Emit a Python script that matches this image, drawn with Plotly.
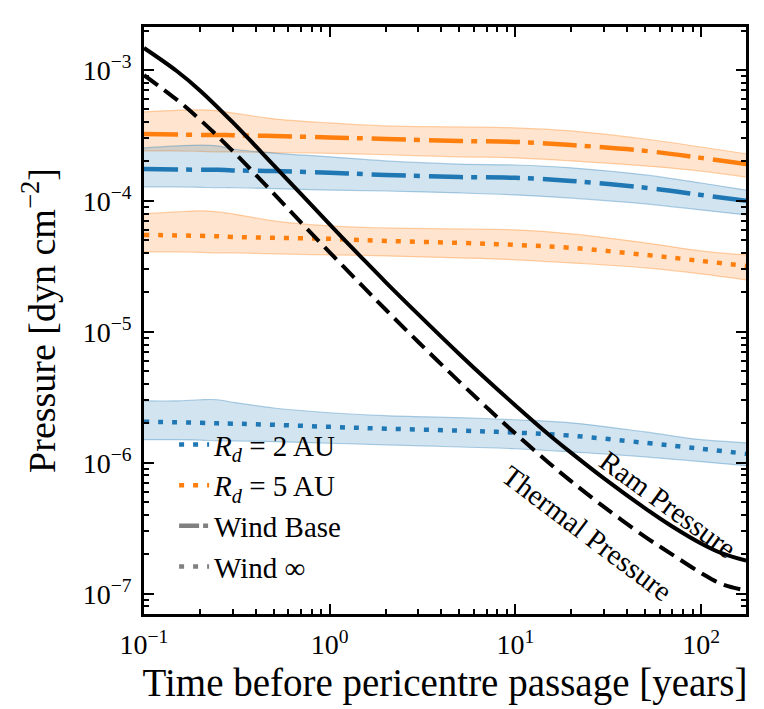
import plotly.graph_objects as go

# time before pericentre [years]
t_curve = [0.1, 0.15, 0.2, 0.3, 0.5, 0.7, 1, 1.5, 2, 3, 5, 7, 10, 15, 20, 30, 50, 70, 100, 130, 175]
ram_p = [1.472e-3, 9.82e-4, 6.98e-4, 3.99e-4, 1.87e-4, 1.13e-4, 6.61e-5, 3.64e-5, 2.40e-5, 1.36e-5,
         6.75e-6, 4.32e-6, 2.74e-6, 1.66e-6, 1.19e-6, 7.60e-7, 4.49e-7, 3.26e-7, 2.42e-7, 2.03e-7, 1.79e-7]
therm_p = [9.12e-4, 5.93e-4, 4.18e-4, 2.41e-4, 1.135e-4, 6.85e-5, 4.05e-5, 2.24e-5, 1.48e-5, 8.36e-6,
           4.15e-6, 2.65e-6, 1.67e-6, 1.01e-6, 7.21e-7, 4.60e-7, 2.72e-7, 1.99e-7, 1.44e-7, 1.18e-7, 1.06e-7]

t_band = [0.1, 0.15, 0.2, 0.25, 0.3, 0.5, 1, 2, 5, 10, 20, 50, 100, 175]

# R_d = 2 AU, wind base
b2_hi = [2.54e-4, 2.63e-4, 2.67e-4, 2.63e-4, 2.49e-4, 2.32e-4, 2.17e-4, 2.02e-4, 1.91e-4, 1.88e-4, 1.79e-4, 1.58e-4, 1.37e-4, 1.21e-4]
b2_mid = [1.75e-4, 1.74e-4, 1.73e-4, 1.73e-4, 1.71e-4, 1.69e-4, 1.64e-4, 1.58e-4, 1.52e-4, 1.50e-4, 1.42e-4, 1.26e-4, 1.11e-4, 1.00e-4]
b2_lo = [1.28e-4, 1.28e-4, 1.27e-4, 1.26e-4, 1.26e-4, 1.24e-4, 1.21e-4, 1.19e-4, 1.15e-4, 1.11e-4, 1.05e-4, 9.49e-5, 8.53e-5, 7.81e-5]
# R_d = 5 AU, wind base
b5_hi = [4.78e-4, 4.92e-4, 4.96e-4, 4.87e-4, 4.70e-4, 4.23e-4, 3.94e-4, 3.74e-4, 3.67e-4, 3.61e-4, 3.42e-4, 2.97e-4, 2.58e-4, 2.29e-4]
b5_mid = [3.24e-4, 3.21e-4, 3.19e-4, 3.19e-4, 3.17e-4, 3.13e-4, 3.05e-4, 2.97e-4, 2.87e-4, 2.82e-4, 2.67e-4, 2.41e-4, 2.13e-4, 1.91e-4]
b5_lo = [2.41e-4, 2.41e-4, 2.39e-4, 2.37e-4, 2.37e-4, 2.34e-4, 2.31e-4, 2.25e-4, 2.17e-4, 2.13e-4, 2.02e-4, 1.85e-4, 1.69e-4, 1.52e-4]
# R_d = 2 AU, wind infinity
i2_hi = [2.97e-6, 2.97e-6, 3.03e-6, 3.03e-6, 2.90e-6, 2.62e-6, 2.41e-6, 2.29e-6, 2.21e-6, 2.13e-6, 2.02e-6, 1.72e-6, 1.50e-6, 1.42e-6]
i2_mid = [2.06e-6, 2.04e-6, 2.02e-6, 2.00e-6, 1.99e-6, 1.95e-6, 1.88e-6, 1.82e-6, 1.76e-6, 1.70e-6, 1.61e-6, 1.42e-6, 1.28e-6, 1.17e-6]
i2_lo = [1.50e-6, 1.50e-6, 1.49e-6, 1.47e-6, 1.47e-6, 1.45e-6, 1.41e-6, 1.37e-6, 1.32e-6, 1.28e-6, 1.21e-6, 1.11e-6, 1.02e-6, 0.95e-6]
# R_d = 5 AU, wind infinity
i5_hi = [7.96e-5, 8.24e-5, 8.39e-5, 8.24e-5, 7.96e-5, 7.03e-5, 6.44e-5, 6.22e-5, 6.11e-5, 6.01e-5, 5.60e-5, 4.78e-5, 4.15e-5, 3.87e-5]
i5_mid = [5.50e-5, 5.45e-5, 5.41e-5, 5.37e-5, 5.31e-5, 5.22e-5, 5.13e-5, 4.95e-5, 4.78e-5, 4.61e-5, 4.38e-5, 3.87e-5, 3.48e-5, 3.19e-5]
i5_lo = [4.08e-5, 4.08e-5, 4.05e-5, 4.01e-5, 4.01e-5, 3.94e-5, 3.87e-5, 3.80e-5, 3.67e-5, 3.55e-5, 3.36e-5, 3.08e-5, 2.77e-5, 2.49e-5]

x_tickvals = [0.1, 1, 10, 100]
x_ticktext = ["10<sup>\u22121</sup>", "10<sup>0</sup>", "10<sup>1</sup>", "10<sup>2</sup>"]
y_tickvals = [1e-7, 1e-6, 1e-5, 1e-4, 1e-3]
y_ticktext = ["10<sup>\u22127</sup>", "10<sup>\u22126</sup>", "10<sup>\u22125</sup>",
              "10<sup>\u22124</sup>", "10<sup>\u22123</sup>"]

C0 = (31, 119, 180)
C1 = (255, 127, 14)
FONT = "Liberation Serif"
DOT = "5px,9px"
DASHDOT = "34px,8px,6px,9px"


def rgba(c, a):
    return "rgba(%d,%d,%d,%s)" % (c[0], c[1], c[2], a)


fig = go.Figure()


def add_band(hi, mid, lo, col, dash):
    fig.add_trace(go.Scatter(x=t_band, y=hi, mode="lines", line=dict(color=rgba(col, 0.35), width=1.2),
                             line_shape="spline", showlegend=False, hoverinfo="skip"))
    fig.add_trace(go.Scatter(x=t_band, y=lo, mode="lines", line=dict(color=rgba(col, 0.35), width=1.2),
                             line_shape="spline", fill="tonexty", fillcolor=rgba(col, 0.2),
                             showlegend=False, hoverinfo="skip"))
    fig.add_trace(go.Scatter(x=t_band, y=mid, mode="lines", line=dict(color=rgba(col, 1), width=4.5, dash=dash),
                             line_shape="spline", showlegend=False))


add_band(b5_hi, b5_mid, b5_lo, C1, DASHDOT)
add_band(b2_hi, b2_mid, b2_lo, C0, DASHDOT)
add_band(i5_hi, i5_mid, i5_lo, C1, DOT)
add_band(i2_hi, i2_mid, i2_lo, C0, DOT)

fig.add_trace(go.Scatter(x=t_curve, y=ram_p, mode="lines", line=dict(color="black", width=4),
                         line_shape="spline", showlegend=False))
fig.add_trace(go.Scatter(x=t_curve, y=therm_p, mode="lines", line=dict(color="black", width=4, dash="17px,8px"),
                         line_shape="spline", showlegend=False))

# legend-only entries
legend_items = [
    ("<i>R<sub>d</sub></i> = 2 AU", rgba(C0, 1), DOT),
    ("<i>R<sub>d</sub></i> = 5 AU", rgba(C1, 1), DOT),
    ("Wind Base", "gray", "20px,4px,5px,8px"),
    ("Wind \u221e", "gray", DOT),
]
for i, (name, col, dash) in enumerate(legend_items):
    fig.add_trace(go.Scatter(x=[None], y=[None], mode="lines", name=name, legendgroup="g%d" % i,
                             line=dict(color=col, width=4.5, dash=dash)))

fig.add_annotation(x=1.82, y=-6.315, text="Ram Pressure", showarrow=False, textangle=36,
                   font=dict(size=29, family=FONT, color="black"))
fig.add_annotation(x=1.385, y=-6.54, text="Thermal Pressure", showarrow=False, textangle=37,
                   font=dict(size=29, family=FONT, color="black"))

axis_common = dict(
    type="log", showgrid=False, zeroline=False, showline=True, linecolor="black", linewidth=2.5,
    mirror="allticks", ticks="inside", ticklen=10, tickwidth=1.8, tickcolor="black",
    tickfont=dict(size=28, family=FONT, color="black"), ticklabelstandoff=4,
    minor=dict(ticks="inside", ticklen=5, tickwidth=1.5, tickcolor="black", dtick="D1", showgrid=False),
)

fig.update_xaxes(axis_common, range=[-1, 2.242], tickvals=x_tickvals, ticktext=x_ticktext,
                 title=dict(text="Time before pericentre passage [years]",
                            font=dict(size=39, family=FONT, color="black"), standoff=10))
fig.update_yaxes(axis_common, range=[-7.155, -2.672], tickvals=y_tickvals, ticktext=y_ticktext,
                 title=dict(text="Pressure [dyn cm<sup>\u22122</sup>]",
                            font=dict(size=38, family=FONT, color="black"), standoff=16))

fig.update_layout(
    width=764, height=709,
    margin=dict(l=136, r=26, t=19, b=103),
    plot_bgcolor="white", paper_bgcolor="white",
    font=dict(family=FONT, color="black"),
    legend=dict(x=0.05, y=0.332, xanchor="left", yanchor="top", bgcolor="rgba(0,0,0,0)",
                traceorder="grouped", tracegroupgap=0,
                font=dict(size=29, family=FONT, color="black")),
)

fig.write_html("out.html")
